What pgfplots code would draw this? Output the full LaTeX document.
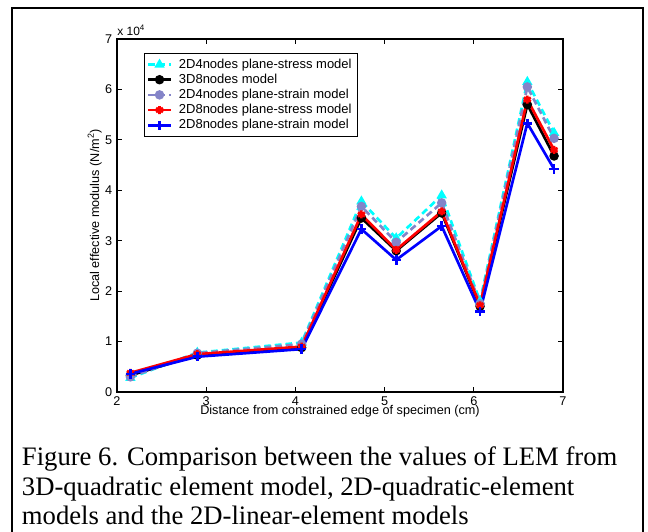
\documentclass[border=0pt]{standalone}
\usepackage{fontspec}
\setmainfont{Liberation Serif}
\newfontfamily\arialf{Liberation Sans}
\usepackage{pgfplots}
\pgfplotsset{compat=1.18}
\definecolor{mcyan}{RGB}{0,255,255}
\definecolor{mpurple}{RGB}{132,132,200}
\definecolor{mred}{RGB}{255,0,0}
\definecolor{mblue}{RGB}{0,0,255}

\begin{document}
\begin{tikzpicture}
\useasboundingbox (0,0) rectangle (486pt,398.25pt);
% page frame (bottom edge is off the picture)
\draw[line width=1.5pt] (9pt,-3pt) -- (9pt,392.25pt) -- (482.25pt,392.25pt) -- (482.25pt,-3pt);
\begin{axis}[
  name=ax,
  at={(87.75pt,104.25pt)}, anchor=south west,
  scale only axis, width=334.5pt, height=264.75pt,
  xmin=2, xmax=7, ymin=0, ymax=70000,
  xtick={2,3,4,5,6,7},
  ytick={0,10000,20000,30000,40000,50000,60000,70000},
  yticklabels={0,1,2,3,4,5,6,7},
  scaled y ticks=false,
  /pgf/number format/assume math mode=true,
  tick align=inside, major tick length=3.5pt,
  axis line style={line width=0.8pt},
  tick style={line width=0.6pt, black},
  ticklabel style={font=\arialf\fontsize{9.5}{11}\selectfont},
  xlabel={Distance from constrained edge of specimen (cm)},
  ylabel={Local effective modulus (N/m\textsuperscript{2})},
  label style={font=\arialf\fontsize{9.5}{11}\selectfont},
  xlabel style={at={(axis description cs:0.5,-0.055)}, anchor=center},
  ylabel style={at={(axis description cs:-0.05,0.5)}, anchor=center},
  legend style={at={(0.06,0.96)}, anchor=north west, draw=black,
    line width=0.6pt, font=\arialf\fontsize{9.75}{11}\selectfont,
    inner sep=2pt, row sep=-1.2pt, column sep=3pt},
  legend cell align=left,
]
\addplot[mcyan, line width=2pt, dash pattern=on 5pt off 3pt,
  mark=triangle*, mark size=2.5pt, mark options={solid}]
  coordinates {(2.15,2800) (2.9,7800) (4.07,9800) (4.74,37800) (5.13,30500)
               (5.64,39000) (6.07,18000) (6.6,61500) (6.9,51400)};
\addplot[black, line width=2pt, mark=*, mark size=2.5pt]
  coordinates {(2.15,3300) (2.9,7300) (4.07,8800) (4.74,34500) (5.13,28000)
               (5.64,35500) (6.07,17000) (6.6,57000) (6.9,46800)};
\addplot[mpurple, line width=2pt, dash pattern=on 5pt off 3pt,
  mark=*, mark size=2.5pt, mark options={solid}]
  coordinates {(2.15,3000) (2.9,7700) (4.07,9500) (4.74,36800) (5.13,29700)
               (5.64,37500) (6.07,17500) (6.6,60500) (6.9,50300)};
\addplot[mred, line width=2pt, mark=asterisk, mark size=3pt]
  coordinates {(2.15,3800) (2.9,7500) (4.07,9000) (4.74,35200) (5.13,28200)
               (5.64,35800) (6.07,17200) (6.6,58000) (6.9,48000)};
\addplot[mblue, line width=2pt, mark=+, mark size=3.5pt]
  coordinates {(2.15,3600) (2.9,7000) (4.07,8500) (4.74,32300) (5.13,26200)
               (5.64,32900) (6.07,16000) (6.6,53300) (6.9,44200)};
\legend{2D4nodes plane-stress model, 3D8nodes model,
        2D4nodes plane-strain model, 2D8nodes plane-stress model,
        2D8nodes plane-strain model}
\end{axis}
\node[anchor=south west, inner sep=0pt, yshift=2.5pt, font=\arialf\fontsize{9}{10}\selectfont]
  at (ax.north west) {x 10\textsuperscript{4}};
\node[anchor=base west, font=\fontsize{20}{23}\selectfont, inner sep=0pt] at (16.25pt,48.75pt)
  {Figure 6. Comparison between the values of LEM from};
\node[anchor=base west, font=\fontsize{20}{23}\selectfont, inner sep=0pt] at (16.25pt,27pt)
  {3D-quadratic element model, 2D-quadratic-element};
\node[anchor=base west, font=\fontsize{20}{23}\selectfont, inner sep=0pt] at (16.25pt,5.25pt)
  {models and the 2D-linear-element models};
\end{tikzpicture}
\end{document}
